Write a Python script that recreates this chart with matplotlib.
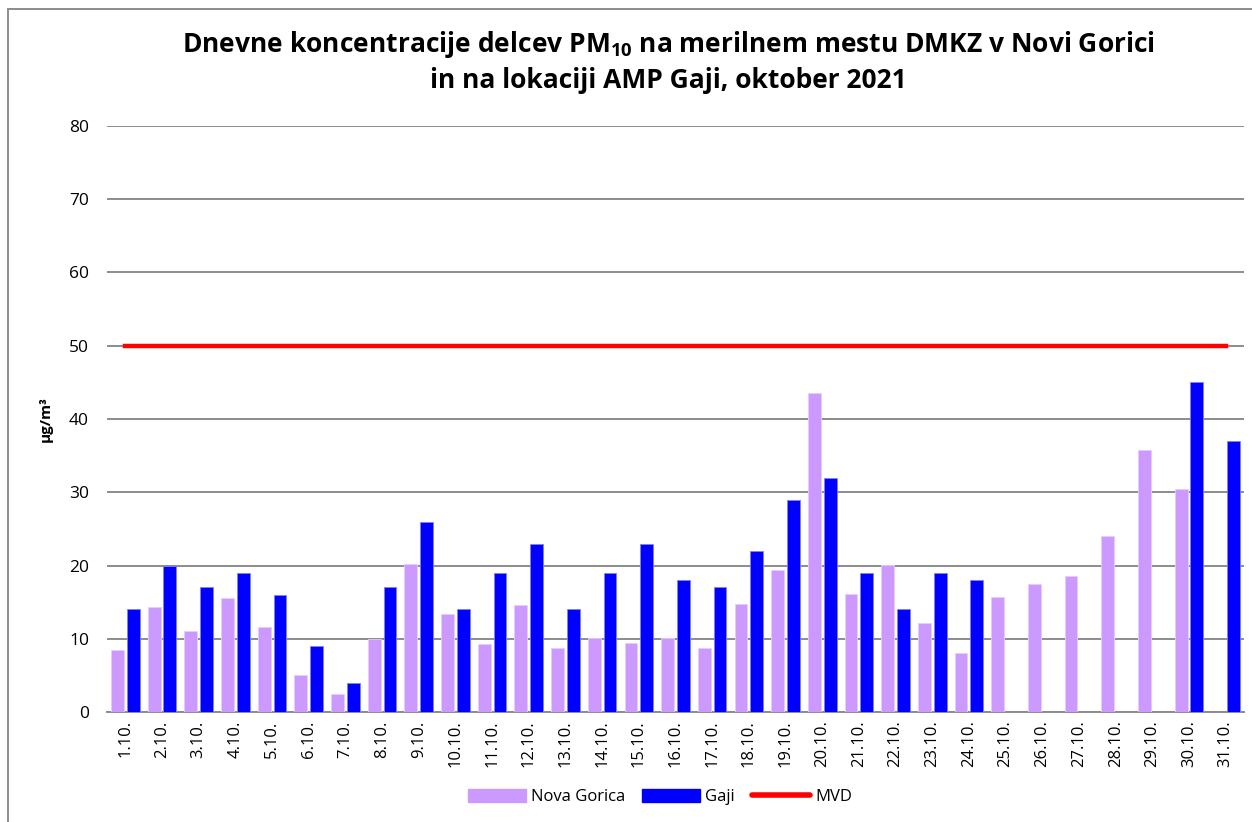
import matplotlib.pyplot as plt
import numpy as np
from matplotlib.patches import Rectangle, Patch
from matplotlib.lines import Line2D

days = [f"{d}.10." for d in range(1, 32)]
nova_gorica = [8.4, 14.3, 11.0, 15.6, 11.6, 5.1, 2.4, 10.0, 20.2, 13.4,
               9.3, 14.6, 8.8, 10.1, 9.4, 10.1, 8.8, 14.8, 19.4, 43.5,
               16.1, 20.1, 12.1, 8.0, 15.7, 17.5, 18.6, 24.0, 35.7, 30.4, np.nan]
gaji = [14, 20, 17, 19, 16, 9, 4, 17, 26, 14,
        19, 23, 14, 19, 23, 18, 17, 22, 29, 32,
        19, 14, 19, 18, np.nan, np.nan, np.nan, np.nan, np.nan, 45, 37]
mvd = 50

plt.rcParams['font.family'] = ['Open Sans', 'DejaVu Sans']
plt.rcParams['mathtext.fontset'] = 'custom'
plt.rcParams['mathtext.rm'] = 'Open Sans:bold'
plt.rcParams['mathtext.default'] = 'rm'

fig = plt.figure(figsize=(12.52, 8.22), dpi=100)
ax = fig.add_axes([107/1252, 1 - 712/822, 1137/1252, 586/822])

x = np.arange(len(days))
w = 0.35
ax.bar(x - 0.215, nova_gorica, w, color='#CC99FF', edgecolor='#E6CCFF', linewidth=0.6, zorder=3)
ax.bar(x + 0.215, gaji, w, color='#0000FF', edgecolor='#8080FF', linewidth=0.6, zorder=3)
ax.plot(x, [mvd] * len(x), color='#FF0000', linewidth=3.2, zorder=4)

ax.set_xlim(-0.5, len(days) - 0.5)
ax.set_ylim(0, 80)
ax.set_yticks(range(0, 81, 10))
ax.set_xticks(x)
ax.set_xticklabels(days, rotation=90, fontsize=12)
ax.tick_params(axis='y', labelsize=12.5, length=0, pad=13)
ax.tick_params(axis='x', length=0, pad=6)
ax.yaxis.grid(True, color='#8C8C8C', linewidth=1.4, zorder=0)
ax.set_axisbelow(True)
for s in ['left', 'right', 'top']:
    ax.spines[s].set_visible(False)
ax.spines['bottom'].set_color('#8C8C8C')
ax.spines['bottom'].set_linewidth(1.4)

ax.set_ylabel("µg/m³", fontsize=11, fontweight='bold', labelpad=12)

fig.text(0.534, 1 - 45/822, "Dnevne koncentracije delcev PM$_{10}$ na merilnem mestu DMKZ v Novi Gorici",
         ha='center', va='center', fontsize=19, fontweight='bold', family='Open Sans')
fig.text(0.534, 1 - 81/822, "in na lokaciji AMP Gaji, oktober 2021",
         ha='center', va='center', fontsize=19, fontweight='bold', family='Open Sans')

handles = [Patch(color='#CC99FF'), Patch(color='#0000FF'),
           Line2D([0], [0], color='#FF0000', linewidth=4, solid_capstyle='round')]
fig.legend(handles, ["Nova Gorica", "Gaji", "MVD"], loc='center', bbox_to_anchor=(0.527, 1 - 797/822),
           ncol=3, frameon=False, fontsize=12, handlelength=3.5, handleheight=0.8,
           handletextpad=0.3, columnspacing=1.0)

fig.add_artist(Rectangle((8/1252, -0.1), 2, 1 - 9/822 + 0.1, transform=fig.transFigure,
                         fill=False, edgecolor='#8C8C8C', linewidth=1.4))

fig.savefig("out.png", dpi=100)
